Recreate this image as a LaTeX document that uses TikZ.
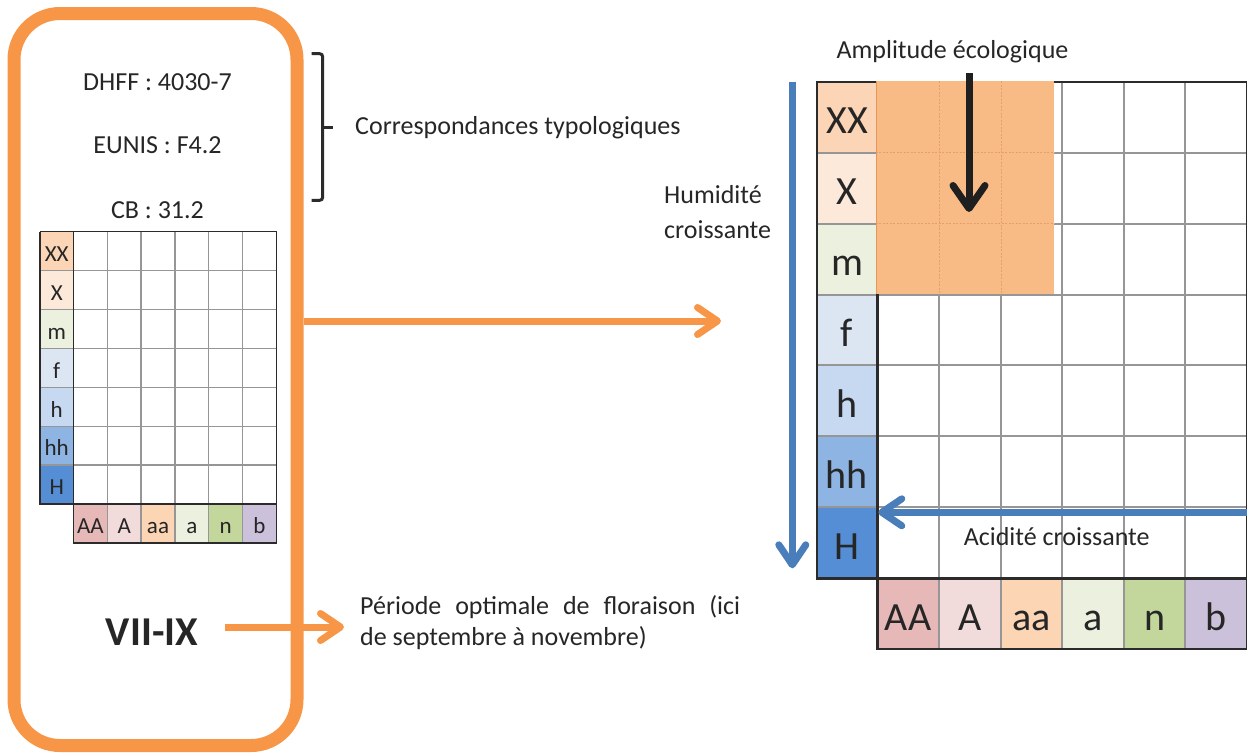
\documentclass[tikz,border=0pt]{standalone}
\usepackage{fontspec}
\setmainfont{Carlito}
\usetikzlibrary{arrows.meta}
\definecolor{orn}{HTML}{F79646}
\definecolor{blu}{HTML}{4A7EBB}
\definecolor{txt}{HTML}{262626}
\definecolor{gridgray}{HTML}{969696}
\definecolor{dark}{HTML}{2B2B2B}
\definecolor{hl}{HTML}{F8BB86}
\definecolor{hlline}{HTML}{E3A06A}
\definecolor{hledge}{HTML}{E8955A}
\definecolor{ra}{HTML}{FBD5B5}
\definecolor{rb}{HTML}{FDE9D9}
\definecolor{rc}{HTML}{EBF1DE}
\definecolor{rd}{HTML}{DCE6F2}
\definecolor{re}{HTML}{C6D9F1}
\definecolor{rf}{HTML}{8EB4E3}
\definecolor{rg}{HTML}{558ED5}
\definecolor{ca}{HTML}{E6B9B8}
\definecolor{cb}{HTML}{F2DCDB}
\definecolor{cc}{HTML}{FCD5B5}
\definecolor{cd}{HTML}{EBF1DE}
\definecolor{ce}{HTML}{C3D69B}
\definecolor{cf}{HTML}{CCC1DA}
\begin{document}
\begin{tikzpicture}[x=1pt,y=-1pt,
  lbl/.style={font=\fontsize{26}{31}\selectfont, text=txt, inner sep=0},
  scell/.style={minimum width=33.8, minimum height=38.9, inner sep=0, text height=25, text depth=4.5, font=\fontsize{23}{26}\selectfont, text=txt},
  lcell/.style={minimum width=60.6, minimum height=70.94, inner sep=0, text height=39, text depth=6.5, font=\fontsize{40}{44}\selectfont, text=txt},
  sgrid/.style={draw=gridgray, line width=1.3},
  sdark/.style={draw=dark, line width=1.3},
  lgrid/.style={draw=gridgray, line width=2},
  ldark/.style={draw=dark, line width=2.4},
  thickarrow/.style={line width=7, -{Straight Barb[length=20,width=27,round]}},
]
\useasboundingbox (0,0) rectangle (1247,755);

% left rounded box
\node[draw=orn, line width=13, rounded corners=46, minimum width=283, minimum height=732, inner sep=0] (box) at (155.5,379.5) {};

\node[lbl] (dhff) at (157.5,82) {DHFF : 4030-7};
\node[lbl] (eunis) at (157.5,145) {EUNIS : F4.2};
\node[lbl] (cb) at (157.5,210) {CB : 31.2};

% small grid
\foreach \t/\c [count=\i from 0] in {XX/ra,X/rb,m/rc,f/rd,h/re,hh/rf,H/rg}
  \node[scell, fill=\c] (s\t) at (56.75,{231.7+38.9*\i+19.45}) {\t};
\foreach \t/\c [count=\i from 0] in {AA/ca,A/cb,aa/cc,a/cd,n/ce,b/cf}
  \node[scell, fill=\c] (sb\t) at ({73.5+33.8*\i+16.9},523.45) {\t};
\foreach \k in {1,...,5} \draw[sgrid] ({73.5+33.8*\k},231.7) -- ({73.5+33.8*\k},542.9);
\foreach \k in {1,...,6} \draw[sgrid] (40,{231.7+38.9*\k}) -- (276.3,{231.7+38.9*\k});
\draw[sdark] (40,231.7) -- (276.3,231.7) -- (276.3,542.9) -- (73.5,542.9) -- (73.5,231.7);
\draw[sdark] (40,231.7) -- (40,504) -- (276.3,504);

\node[font=\fontsize{41}{45}\selectfont\bfseries, text=txt, inner sep=0] (vii) at (152,632) {VII-IX};

% brace
\draw[draw=dark, line width=3, rounded corners=3] (311.7,53.7) -- (322.7,53.7) -- (322.7,200.3) -- (311.7,200.3);
\draw[draw=dark, line width=3] (322.7,127.3) -- (333,127.3);
\node[lbl, anchor=west] (corr) at (355,128) {Correspondances typologiques};

% large grid
\foreach \t/\c [count=\i from 0] in {XX/ra,X/rb,m/rc,f/rd,h/re,hh/rf,H/rg}
  \node[lcell, fill=\c] (L\t) at (847,{81.7+70.94*\i+35.47}) {\t};
\foreach \t/\c [count=\i from 0] in {AA/ca,A/cb,aa/cc,a/cd,n/ce,b/cf}
  \node[lcell, fill=\c, minimum width=61.6] (Lb\t) at ({877.3+61.6*\i+30.8},613.75) {\t};
\foreach \k in {1,...,5} \draw[lgrid] ({877.3+61.6*\k},81.7) -- ({877.3+61.6*\k},649.2);
\foreach \k in {1,...,6} \draw[lgrid] (816.7,{81.7+70.94*\k}) -- (1246.9,{81.7+70.94*\k});
\draw[ldark] (816.7,81.7) rectangle (877.3,578.3);
\draw[ldark] (816.7,81.7) -- (1246.9,81.7) -- (1246.9,649.2) -- (877.3,649.2) -- (877.3,578.3);
\draw[ldark] (816.7,578.3) -- (1246.9,578.3);

% highlighted ecological amplitude
\fill[hl] (875.5,80.5) rectangle (1054.3,293.5);
\draw[hlline, line width=0.8, dash pattern=on 2pt off 1.5pt] (939.5,81) -- (939.5,293.5) (1001,81) -- (1001,293.5) (875.5,152.6) -- (1054.3,152.6) (875.5,223.5) -- (1054.3,223.5);
\draw[hledge, line width=1.6] (876.3,81) -- (876.3,293.5);

\node[lbl] (ampl) at (952.5,52) {Amplitude écologique};
\coordinate (bk0) at (969,73);
\coordinate (bk1) at (969,212);
\draw[line width=7, draw=black!88, -{Straight Barb[length=23,width=32,round]}] (bk0) -- (bk1);

\node[lbl, anchor=west, align=left, font=\fontsize{26}{35}\selectfont] (hum) at (664,212.5) {Humidité\\croissante};
\coordinate (bv0) at (792.3,81.7);
\coordinate (bv1) at (792.3,568.3);
\draw[thickarrow, draw=blu] (bv0) -- (bv1);

\coordinate (bh0) at (1250,512.3);
\coordinate (bh1) at (878.3,512.3);
\draw[thickarrow, draw=blu] (bh0) -- (bh1);
\node[lbl] (acid) at (1056.7,537) {Acidité croissante};

% orange arrows
\coordinate (mid) at (721,321);
\draw[thickarrow, draw=orn] (box.east |- mid) -- (mid);

\coordinate (p0) at (225,627);
\coordinate (p1) at (344,627);
\draw[thickarrow, draw=orn] (p0) -- (p1);
\node[lbl, anchor=west, align=left] (per) at (360,622.5) {\makebox[380pt][s]{Période optimale de floraison (ici}\\de septembre à novembre)};
\end{tikzpicture}
\end{document}
